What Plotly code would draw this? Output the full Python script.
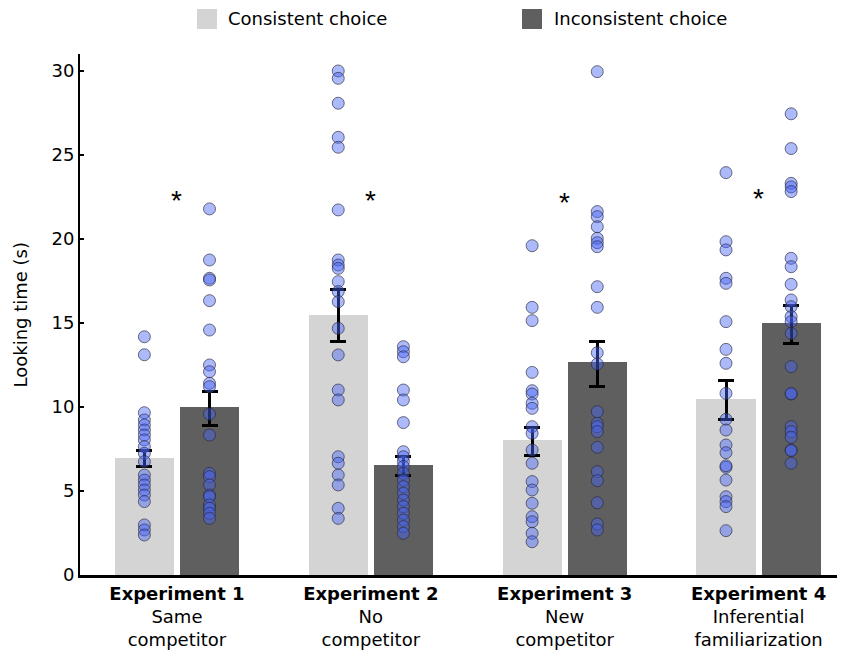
import plotly.graph_objects as go

experiments = ["Experiment 1", "Experiment 2", "Experiment 3", "Experiment 4"]
subtitles = ["Same<br>competitor", "No<br>competitor", "New<br>competitor", "Inferential<br>familiarization"]

consistent_mean = [6.98, 15.45, 8.02, 10.45]
consistent_se_hi = [7.44, 17.0, 8.77, 11.57]
consistent_se_lo = [6.45, 13.89, 7.14, 9.27]
inconsistent_mean = [10.0, 6.55, 12.68, 15.0]
inconsistent_se_hi = [10.95, 7.08, 13.89, 16.07]
inconsistent_se_lo = [8.87, 5.95, 11.21, 13.79]

consistent_points = [
    [14.18, 13.11, 9.66, 9.23, 8.93, 8.63, 8.33, 8.04, 7.64, 7.24, 6.75, 5.95, 5.65,
     5.36, 5.06, 4.76, 4.37, 2.98, 2.68, 2.38],
    [30.0, 29.56, 28.08, 26.05, 25.46, 21.73, 18.75, 18.45, 18.25, 17.46, 16.87, 16.27,
     14.68, 13.1, 11.01, 10.42, 7.04, 6.65, 5.95, 5.36, 3.97, 3.37],
    [19.6, 15.93, 15.14, 12.06, 10.97, 10.77, 10.22, 9.92, 8.83, 8.43, 7.44, 6.65, 5.56,
     5.06, 4.27, 3.47, 3.17, 2.48, 1.98],
    [23.95, 19.84, 19.35, 17.66, 17.36, 15.08, 13.43, 12.6, 10.81, 9.27, 8.63, 7.74,
     7.28, 6.41, 6.5, 5.65, 4.66, 4.37, 4.07, 2.64],
]
inconsistent_points = [
    [21.79, 18.75, 17.66, 17.56, 16.33, 14.58, 12.5, 12.1, 11.41, 11.21, 9.58, 8.33,
     6.05, 5.85, 5.36, 4.76, 4.66, 4.17, 3.97, 3.67, 3.37],
    [13.59, 13.29, 12.99, 11.01, 10.42, 9.07, 7.34, 7.04, 6.75, 6.45, 6.05, 5.65, 5.26,
     4.86, 4.46, 4.07, 3.67, 3.27, 2.88, 2.48],
    [29.96, 21.63, 21.33, 20.73, 20.04, 19.78, 19.54, 17.16, 15.93, 13.23, 12.56, 9.72,
     9.03, 8.83, 8.53, 7.6, 6.15, 5.61, 4.3, 3.04, 2.68],
    [27.45, 25.38, 23.31, 23.1, 22.82, 18.85, 18.35, 17.3, 16.37, 15.97, 15.38, 15.08,
     14.38, 12.4, 10.77, 10.8, 8.83, 8.53, 8.2, 7.44, 7.4, 6.65],
]
significance = ["*", "*", "*", "*"]
star_level = [22.3, 22.3, 22.2, 22.4]
legend_labels = ["Consistent choice", "Inconsistent choice"]
y_title = "Looking time (s)"

OFFSET = 0.168
BAR_W = 0.305
idx = list(range(len(experiments)))
x_cons = [i - OFFSET for i in idx]
x_inc = [i + OFFSET for i in idx]

FONT = "DejaVu Sans, Liberation Sans, Arial, sans-serif"
LIGHT = "#d4d4d4"
DARK = "#5f5f5f"

fig = go.Figure()

fig.add_trace(go.Bar(
    x=x_cons, y=consistent_mean, width=BAR_W, marker=dict(color=LIGHT, line=dict(width=0)),
    error_y=dict(type="data", symmetric=False,
                 array=[h - m for h, m in zip(consistent_se_hi, consistent_mean)],
                 arrayminus=[m - l for l, m in zip(consistent_se_lo, consistent_mean)],
                 color="black", thickness=3, width=8),
    showlegend=False, name=legend_labels[0]))
fig.add_trace(go.Bar(
    x=x_inc, y=inconsistent_mean, width=BAR_W, marker=dict(color=DARK, line=dict(width=0)),
    error_y=dict(type="data", symmetric=False,
                 array=[h - m for h, m in zip(inconsistent_se_hi, inconsistent_mean)],
                 arrayminus=[m - l for l, m in zip(inconsistent_se_lo, inconsistent_mean)],
                 color="black", thickness=3, width=8),
    showlegend=False, name=legend_labels[1]))

pt_marker = dict(size=12, color="rgba(70,100,245,0.45)",
                 line=dict(color="rgba(40,40,60,0.65)", width=1))
for i in idx:
    fig.add_trace(go.Scatter(x=[x_cons[i]] * len(consistent_points[i]), y=consistent_points[i],
                             mode="markers", marker=pt_marker, showlegend=False, hoverinfo="y"))
    fig.add_trace(go.Scatter(x=[x_inc[i]] * len(inconsistent_points[i]), y=inconsistent_points[i],
                             mode="markers", marker=pt_marker, showlegend=False, hoverinfo="y"))

for i in idx:
    fig.add_annotation(x=i, y=star_level[i], text=significance[i], showarrow=False,
                       font=dict(size=28, color="black", family="Liberation Sans, Arial"),
                       yanchor="middle")

# legend drawn as swatches + labels
fig.add_shape(type="rect", xref="paper", yref="paper", x0=0.1539, x1=0.1803, y0=1.048, y1=1.0864,
              fillcolor=LIGHT, line=dict(width=0))
fig.add_shape(type="rect", xref="paper", yref="paper", x0=0.5816, x1=0.6079, y0=1.048, y1=1.0864,
              fillcolor=DARK, line=dict(width=0))
fig.add_annotation(xref="paper", yref="paper", x=0.1921, y=1.0672, text=legend_labels[0],
                   showarrow=False, xanchor="left", yanchor="middle",
                   font=dict(size=18, color="black", family=FONT))
fig.add_annotation(xref="paper", yref="paper", x=0.6211, y=1.0672, text=legend_labels[1],
                   showarrow=False, xanchor="left", yanchor="middle",
                   font=dict(size=18, color="black", family=FONT))
fig.add_annotation(xref="paper", yref="paper", x=-0.0789, y=0.5, text=y_title, textangle=-90,
                   showarrow=False, xanchor="center", yanchor="middle",
                   font=dict(size=18, color="black", family=FONT))

# page body has an 8px default margin: size the figure so the plot lands where intended
fig.update_layout(
    width=837, height=648,
    margin=dict(l=72, r=5, t=46, b=81),
    plot_bgcolor="white", paper_bgcolor="white",
    font=dict(family=FONT, color="black"),
    bargap=0, showlegend=False,
)
fig.update_xaxes(
    range=[-0.5, 3.42], tickvals=idx,
    ticktext=[f"<b>{e}</b><br>{s}" for e, s in zip(experiments, subtitles)],
    tickfont=dict(size=18, family=FONT, color="black"),
    showline=True, linecolor="black", linewidth=3, ticks="", showgrid=False, zeroline=False,
    automargin=False,
)
fig.update_yaxes(
    range=[0, 31.01], tickvals=[0, 5, 10, 15, 20, 25, 30],
    tickfont=dict(size=18, family=FONT, color="black"),
    showline=True, linecolor="black", linewidth=2, ticks="inside", ticklen=4, tickwidth=2,
    tickcolor="black", showgrid=False, zeroline=False, automargin=False,
)

fig.write_html("out.html")
